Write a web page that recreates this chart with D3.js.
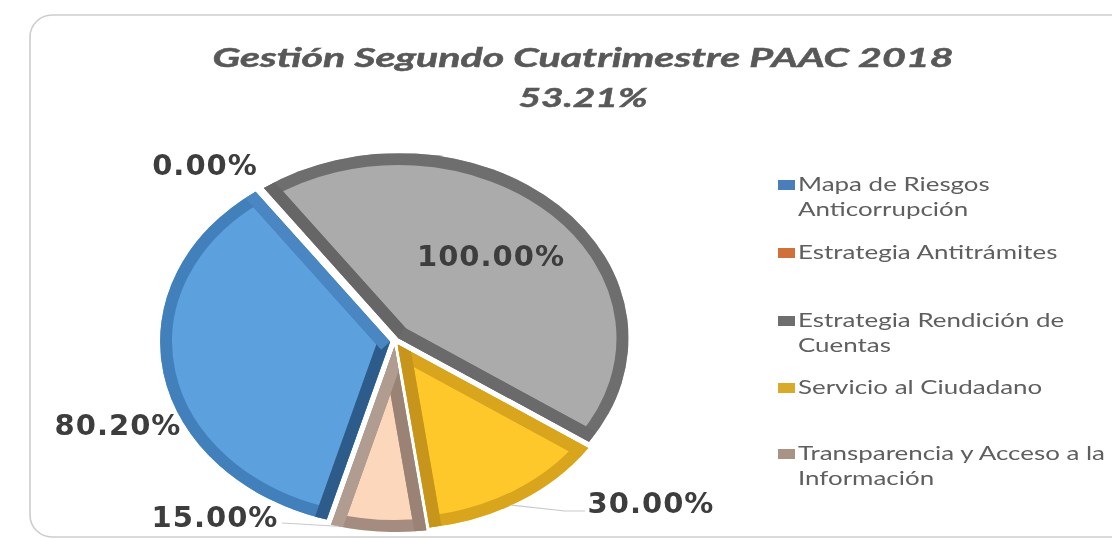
<!DOCTYPE html>
<html><head><meta charset="utf-8">
<script src="https://cdn.jsdelivr.net/npm/d3@7"></script>
<style>body{margin:0;background:#fff;} svg{display:block}</style>
</head><body>
<svg id="chart" width="1112" height="539"></svg>
<script>
// ---- data ----
const categories = ["Mapa de Riesgos Anticorrupción","Estrategia Antitrámites","Estrategia Rendición de Cuentas","Servicio al Ciudadano","Transparencia y Acceso a la Información"];
const values = [80.20, 0.00, 100.00, 30.00, 15.00];
const valueLabels = ["80.20%","0.00%","100.00%","30.00%","15.00%"];
const legendLines = [["Mapa de Riesgos","Anticorrupción"],["Estrategia Antitrámites"],["Estrategia Rendición de","Cuentas"],["Servicio al Ciudadano"],["Transparencia y Acceso a la","Información"]];
const titleLines = ["Gestión Segundo Cuatrimestre PAAC 2018","53.21%"];

// ---- styles / layout ----
const faceColors = ["#5DA0DE","#ED7D31","#ABABAB","#FEC82B","#FDD7BB"];
const bandColors = ["#4380BC","#B85E22","#6E6E6E","#D9A51E","#A48D80"];
const startEdgeColors = ["#2D5C8A","#8E4515","#666666","#D9A51E","#9A8374"];
const endEdgeColors = ["#4A86C2","#B85E22","#6A6A6A","#C7951A","#B09C90"];
const legendColors = ["#4A7EBB","#D0703A","#6E6E6E","#D8AA2C","#A89484"];
const labelPos = [[118,435],[205,175],[491,266],[651,513],[215,527]];
const legendBaselines = [[191,216],[259],[327,352],[394],[460,485]];
const explodeBy = [4,4,4,4,6];

const cx = 395, cy = 341, R = 185, sx = 230/185;
const startDeg = 196;
const band = 24;

const svg = d3.select("#chart");
const defs = svg.append("defs");
defs.append("filter").attr("id","soft").attr("x","-5%").attr("y","-5%").attr("width","110%").attr("height","110%")
  .append("feGaussianBlur").attr("stdDeviation",0.55);

const root = svg.append("g").attr("filter","url(#soft)");

// chart border
root.append("rect").attr("x",30).attr("y",15).attr("width",1120).attr("height",522)
  .attr("rx",22).attr("fill","#fff").attr("stroke","#cdcdcd").attr("stroke-width",1.6);

// title
const title = root.append("g").attr("font-family","Lato, 'Open Sans', sans-serif")
  .attr("font-weight","bold").attr("font-style","italic").attr("fill","#595959")
  .attr("stroke","#595959").attr("stroke-width",0.5).attr("text-anchor","middle");
title.append("text").attr("x",583).attr("y",67).attr("font-size",26)
  .attr("textLength",741).attr("lengthAdjust","spacingAndGlyphs").text(titleLines[0]);
title.append("text").attr("x",583).attr("y",107).attr("font-size",26)
  .attr("textLength",129).attr("lengthAdjust","spacingAndGlyphs").text(titleLines[1]);

// pie
const a0 = startDeg*Math.PI/180;
const pie = d3.pie().sort(null).value(d=>d).startAngle(a0).endAngle(a0+2*Math.PI);
const arcs = pie(values);
const arc = d3.arc().innerRadius(0).outerRadius(R);

function offset(d,i){
  const mid = (d.startAngle+d.endAngle)/2;
  return [Math.sin(mid)*explodeBy[i], -Math.cos(mid)*explodeBy[i]];
}

const pieG = root.append("g").attr("transform",`translate(${cx},${cy}) scale(${sx},1)`);
arcs.forEach((d,i)=>{
  const [ox,oy] = offset(d,i);
  const g = pieG.append("g").attr("transform",`translate(${ox},${oy})`);
  const p = arc(d);
  defs.append("clipPath").attr("id","clip"+i).append("path").attr("d",p);
  g.append("path").attr("d",p).attr("fill",faceColors[i]);
  const cg = g.append("g").attr("clip-path",`url(#clip${i})`);
  cg.append("path").attr("d",p).attr("fill","none").attr("stroke",bandColors[i])
    .attr("stroke-width",band).attr("vector-effect","non-scaling-stroke");
  [[d.startAngle,startEdgeColors[i]],[d.endAngle,endEdgeColors[i]]].forEach(([ea,col])=>{
    cg.append("line").attr("x1",0).attr("y1",0)
      .attr("x2",Math.sin(ea)*R*1.1).attr("y2",-Math.cos(ea)*R*1.1)
      .attr("stroke",col).attr("stroke-width",band).attr("vector-effect","non-scaling-stroke");
  });
});

// helper: screen point on a slice's outer arc
function arcPoint(d, i, ang){
  const [ox,oy] = offset(d,i);
  return [cx + (Math.sin(ang)*R + ox)*sx, cy - Math.cos(ang)*R + oy];
}

// leader lines
const leader = root.append("g").attr("fill","none").attr("stroke","#c9c9c9").attr("stroke-width",1.2);
{
  const d = arcs[3]; const p = arcPoint(d,3,(d.startAngle+d.endAngle)/2 + 0.04);
  const [lx,ly] = labelPos[3];
  leader.append("polyline").attr("points",[p,[lx-86,ly-2],[lx-66,ly-2]].map(q=>q.join(",")).join(" "));
}
{
  const d = arcs[4]; const p = arcPoint(d,4,d.endAngle-0.03);
  const [lx,ly] = labelPos[4];
  leader.append("polyline").attr("points",[[lx+67,ly-4],p].map(q=>q.join(",")).join(" "));
}

// data labels
root.append("g").selectAll("text").data(valueLabels).join("text")
  .attr("x",(d,i)=>labelPos[i][0]).attr("y",(d,i)=>labelPos[i][1])
  .attr("text-anchor","middle").attr("font-family","'DejaVu Sans', Verdana, sans-serif")
  .attr("font-weight","bold").attr("font-size",29).attr("letter-spacing",1)
  .attr("fill","#3d3d3d").text(d=>d);

// legend
const leg = root.append("g").attr("font-family","Lato, 'Open Sans', sans-serif").attr("font-size",19).attr("fill","#5e5e5e");
categories.forEach((c,i)=>{
  const b = legendBaselines[i];
  leg.append("rect").attr("x",778).attr("y",b[0]-11).attr("width",17).attr("height",10).attr("fill",legendColors[i]);
  legendLines[i].forEach((t,j)=>{
    leg.append("text").attr("class","lt").attr("x",798).attr("y",b[j]).text(t);
  });
});
// stretch legend text uniformly to match width of the longest line
const longest = leg.selectAll("text.lt").filter(function(){return this.textContent==="Transparencia y Acceso a la";}).node();
const f = 307/longest.getComputedTextLength();
leg.selectAll("text.lt").each(function(){
  const w = this.getComputedTextLength();
  d3.select(this).attr("textLength",w*f).attr("lengthAdjust","spacingAndGlyphs");
});
</script>
</body></html>
